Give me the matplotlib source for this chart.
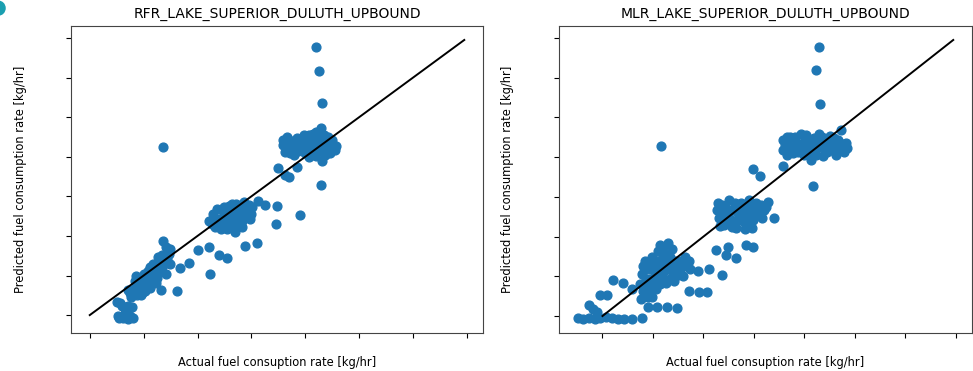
import matplotlib
matplotlib.use("Agg")
import matplotlib.pyplot as plt
from matplotlib.patches import Ellipse

# values (kg/hr, tick step 500, tick labels hidden)
rfr_actual = [2102, 2130, 2158, 676,
              # top cluster
              1796, 1815, 1852, 1871, 1898, 1926, 1945, 1908, 1833, 1991, 2019, 2037, 2056, 2084,
              2111, 2130, 2148, 2176, 2185, 2204, 2222, 2250, 2278, 2158, 2102, 2148, 2102, 2037,
              1824, 1861, 1889, 1935, 1972, 2000, 2028, 2065, 2093, 2121, 2139, 2167, 2195, 2213,
              2232, 2259, 2287, 1991, 2074, 1945, 1796, 1843,
              1750, 1815, 1852, 1926, 2148,
              # middle cluster
              1111, 1139, 1158, 1185, 1204, 1222, 1250, 1269, 1296, 1315, 1343, 1361, 1389, 1408,
              1435, 1454, 1463, 1482, 1500, 1352, 1278, 1417, 1565, 1630, 1741, 1954, 1732,
              1130, 1167, 1195, 1232, 1259, 1287, 1306, 1333, 1352, 1380, 1398, 1426, 1445, 1472,
              1491, 1509, 1370, 1324, 1241,
              1000, 1102, 1195, 1278, 1445, 1556, 1120,
              # lower cluster
              676, 722, 695, 648, 630, 741, 602, 667, 556, 620, 509, 574, 463, 528, 417, 482, 370,
              426, 472, 657, 704, 556, 806, 833, 917,
              398, 444, 491, 519, 546, 574, 602, 630, 648, 676, 695, 713, 732, 741, 704, 667, 583,
              537, 500, 454, 417, 611, 556, 509, 435, 380, 352,
              # bottom cluster
              278, 352, 306, 370, 324, 259, 250, 389, 333, 269, 398, 352, 296]
rfr_pred = [3388, 3088, 2675, 2125,
            2150, 2063, 2213, 2113, 2025, 2238, 2138, 2088, 2250, 2213, 2113, 2275, 2063, 2175,
            2238, 2088, 2150, 2275, 2025, 2188, 2113, 2213, 2088, 1950, 2013, 2363, 2313, 2000,
            2150, 2050, 2188, 2075, 2163, 2050, 2188, 2125, 2088, 2175, 2238, 2088, 2138, 2250,
            2050, 2150, 2138, 2275, 2288, 2213, 2213, 2100,
            1863, 1775, 1738, 1875, 1638,
            1188, 1275, 1113, 1338, 1213, 1088, 1300, 1188, 1375, 1238, 1138, 1400, 1300, 1188,
            1425, 1338, 1238, 1388, 1275, 1050, 1088, 1113, 1438, 1388, 1375, 1263, 1150,
            1150, 1213, 1125, 1238, 1138, 1275, 1175, 1313, 1213, 1375, 1238, 1338, 1263, 1313,
            1213, 1363, 1150, 1400, 1363,
            825, 863, 763, 725, 875, 913, 513,
            938, 775, 688, 650, 738, 650, 588, 563, 525, 463, 463, 400, 400, 338, 338, 275, 275,
            500, 250, 313, 525, 613, 300, 600, 663,
            313, 338, 375, 425, 463, 500, 525, 563, 613, 638, 738, 713, 775, 838, 863, 763, 650,
            563, 525, 463, 425, 400, 338, 300, 250, 225, 313,
            150, 113, -38, -13, 25, -13, 163, 100, 75, -38, -38, -50, 113]

mlr_actual = [2146, 2117, 2156, 578,
              # top cluster
              1793, 1793, 1842, 1862, 1891, 1921, 1970, 1960, 2009, 2038, 2068, 2097, 2117, 2146,
              2166, 2195, 2225, 2254, 2283, 2313, 2332, 2362, 2381, 2411, 2068,
              1813, 1823, 1872, 1911, 1940, 1989, 2019, 2048, 2078, 2107, 2136, 2176, 2205, 2234,
              2264, 2293, 2323, 2352, 2391, 1823, 1999, 2185, 2421,
              1793, 2087, 1490, 1558,
              # middle cluster
              1137, 1156, 1186, 1205, 1225, 1254, 1274, 1303, 1323, 1352, 1372, 1401, 1431, 1450,
              1470, 1499, 1529, 1568, 1597, 1284, 1411, 1519, 1637, 1695,
              1147, 1176, 1196, 1215, 1245, 1264, 1294, 1313, 1343, 1362, 1392, 1421, 1441, 1460,
              1490, 1509, 1548, 1578, 1617, 1166, 1333, 1480,
              1127, 1245, 1421, 1490, 1225, 1323, 1186, 1058, 951, 853, 960, 1039,
              # lower cluster
              647, 500, 637, 764, 833, 402, 392, 539, 666, 794, 441, 372, 500, 451, 568, 715, 598,
              568, 666, 470,
              421, 451, 490, 519, 549, 578, 608, 637, 666, 696, 725, 755, 784, 813, 853, 431, 490,
              529, 588, 627, 706, 745, 412, 470, 568, 686, 862, 382,
              470, 539, 598, 647, 715, 764, 519, 568, 451, 402, 490,
              108, 206, 294, -20, 49, -137, -98, -59,
              # bottom row
              -245, -196, -137, -78, -20, 39, 98, 157, 216, 294, 392,
              451, 539, 637, 735]
mlr_pred = [3388, 3100, 2675, 2138,
            2213, 2088, 2150, 2250, 2050, 2188, 2288, 2113, 2213, 2063, 2150, 2238, 2025, 2288,
            2125, 2213, 2063, 2263, 2150, 2025, 2213, 2338, 2113, 2175, 1963,
            2150, 2025, 2113, 2250, 2063, 2163, 2275, 2113, 2213, 2088, 2175, 2250, 2138, 2175,
            2088, 2238, 2113, 2175, 2063, 2250, 2025, 2013, 2113,
            1888, 1638, 1850, 1763,
            1338, 1238, 1400, 1150, 1300, 1463, 1213, 1363, 1113, 1275, 1425, 1188, 1338, 1463,
            1238, 1375, 1275, 1400, 1338, 1125, 1100, 1425, 1438, 1238,
            1425, 1275, 1188, 1375, 1238, 1325, 1175, 1425, 1213, 1350, 1275, 1413, 1150, 1313,
            1213, 1325, 1300, 1238, 1375, 1138, 1313, 1113,
            825, 863, 900, 875, 763, 725, 513, 588, 563, 313, 300, 300,
            925, 675, 750, 688, 675, 625, 525, 500, 588, 500, 300, 400, 375, 238, 613, 650, 838,
            438, 463, 463,
            688, 588, 738, 613, 813, 688, 563, 650, 738, 550, 688, 588, 613, 738, 688, 463, 438,
            338, 513, 413, 438, 513, 363, 288, 888, 838, 588, 213,
            650, 688, 750, 588, 613, 525, 525, 400, 400, 313, 238,
            450, 413, 338, 263, 263, 138, 88, 50,
            -25, -38, -25, -38, -25, -13, -25, -38, -38, -38, -25,
            113, 113, 113, 100]

ideal_line = [0, 3475]
tick_values = [0, 500, 1000, 1500, 2000, 2500, 3000, 3500]

panels = [
    ("RFR_LAKE_SUPERIOR_DULUTH_UPBOUND", rfr_actual, rfr_pred, [0.073, 0.1024, 0.4234, 0.8275]),
    ("MLR_LAKE_SUPERIOR_DULUTH_UPBOUND", mlr_actual, mlr_pred, [0.5745, 0.1024, 0.4245, 0.8275]),
]

fig = plt.figure(figsize=(9.73, 3.71), dpi=100)

for title, actual, pred, rect in panels:
    ax = fig.add_axes(rect)
    ax.scatter(actual, pred, color="#1f77b4", s=40, zorder=2)
    ax.plot(ideal_line, ideal_line, color="black", linewidth=1.4, zorder=3)
    ax.set_xticks(tick_values)
    ax.set_yticks(tick_values)
    ax.set_xticklabels([])
    ax.set_yticklabels([])
    ax.set_title(title, fontsize=10)
    ax.set_xlabel("Actual fuel consuption rate [kg/hr]", fontsize=8.3)
    ax.set_ylabel("Predicted fuel consumption rate [kg/hr]", fontsize=8.3)
    ax.xaxis.set_label_coords(0.5, -0.075)
    ax.yaxis.set_label_coords(-0.108, 0.5)
    for spine in ax.spines.values():
        spine.set_color("#444444")

# panel marker cut off at the top-left corner
fig.add_artist(Ellipse((-0.002, 0.978), 14 / 973, 14 / 371, transform=fig.transFigure,
                       color="#1a9fb0"))

plt.savefig("out.png", dpi=100)
plt.close()
